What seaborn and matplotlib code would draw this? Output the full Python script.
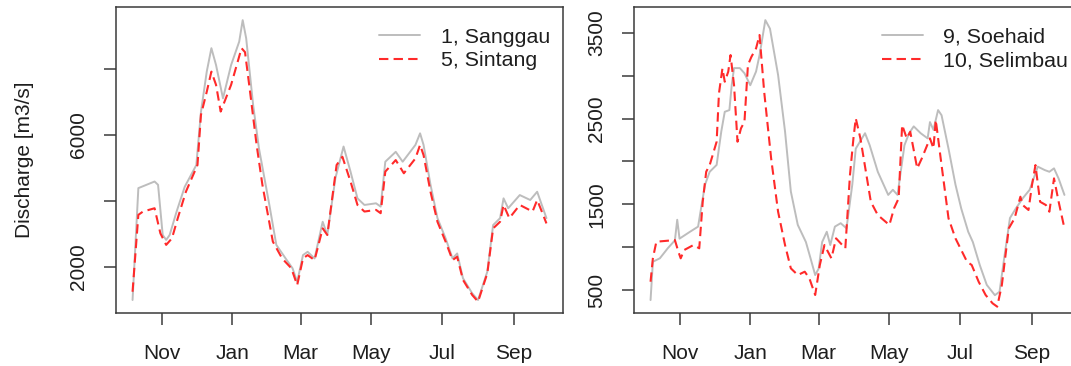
import matplotlib
matplotlib.use("Agg")
import matplotlib.pyplot as plt
import matplotlib.dates as mdates
import seaborn as sns
import pandas as pd

# ---------------- data ----------------
sanggau_dates = ["2009-10-07", "2009-10-12", "2009-10-26", "2009-10-29", "2009-11-02", "2009-11-05",
                 "2009-11-08", "2009-11-14", "2009-11-21", "2009-12-01", "2009-12-05", "2009-12-10",
                 "2009-12-14", "2009-12-18", "2009-12-24", "2009-12-31", "2010-01-07", "2010-01-10",
                 "2010-01-13", "2010-01-19", "2010-01-24", "2010-02-02", "2010-02-08", "2010-02-16",
                 "2010-02-22", "2010-02-26", "2010-03-03", "2010-03-07", "2010-03-13", "2010-03-20",
                 "2010-03-24", "2010-03-31", "2010-04-07", "2010-04-13", "2010-04-19", "2010-04-25",
                 "2010-05-05", "2010-05-09", "2010-05-13", "2010-05-22", "2010-05-28", "2010-06-08",
                 "2010-06-12", "2010-06-15", "2010-06-21", "2010-06-27", "2010-07-04", "2010-07-10",
                 "2010-07-14", "2010-07-19", "2010-07-27", "2010-08-01", "2010-08-09", "2010-08-14",
                 "2010-08-20", "2010-08-23", "2010-08-27", "2010-09-06", "2010-09-15", "2010-09-21",
                 "2010-09-25", "2010-09-29"]
sanggau_q = [1000, 4390, 4590, 4490, 2970, 2820, 2970, 3680, 4430, 5090, 6700, 7920,
             8630, 8120, 7110, 8120, 8830, 9480, 8930, 6910, 5600, 3880, 2670, 2260,
             1960, 1550, 2360, 2460, 2260, 3370, 2970, 4700, 5650, 4890, 4080, 3880,
             3930, 3830, 5190, 5490, 5190, 5700, 6050, 5700, 4490, 3480, 2870, 2260,
             2410, 1660, 1200, 1000, 1860, 3270, 3480, 4080, 3780, 4180, 4030, 4280,
             3880, 3480]

sintang_dates = ["2009-10-07", "2009-10-12", "2009-10-16", "2009-10-26", "2009-10-31", "2009-11-05",
                 "2009-11-10", "2009-11-15", "2009-11-22", "2009-12-02", "2009-12-05", "2009-12-10",
                 "2009-12-14", "2009-12-18", "2009-12-22", "2009-12-31", "2010-01-09", "2010-01-12",
                 "2010-01-16", "2010-01-22", "2010-01-27", "2010-02-05", "2010-02-13", "2010-02-21",
                 "2010-02-26", "2010-03-03", "2010-03-07", "2010-03-13", "2010-03-20", "2010-03-24",
                 "2010-04-01", "2010-04-06", "2010-04-13", "2010-04-19", "2010-04-25", "2010-05-05",
                 "2010-05-09", "2010-05-13", "2010-05-22", "2010-05-29", "2010-06-08", "2010-06-12",
                 "2010-06-15", "2010-06-21", "2010-06-27", "2010-07-04", "2010-07-10", "2010-07-14",
                 "2010-07-19", "2010-07-27", "2010-08-01", "2010-08-09", "2010-08-14", "2010-08-20",
                 "2010-08-23", "2010-08-28", "2010-09-06", "2010-09-17", "2010-09-21", "2010-09-25",
                 "2010-09-29"]
sintang_q = [1250, 3580, 3680, 3780, 3020, 2670, 2870, 3480, 4280, 5090, 6610, 7310,
             7920, 7520, 6710, 7520, 8630, 8510, 7410, 5700, 4490, 2770, 2260, 1960,
             1450, 2260, 2360, 2210, 3170, 2970, 5090, 5340, 4590, 3880, 3680, 3730,
             3630, 4890, 5240, 4840, 5290, 5700, 5390, 4280, 3370, 2770, 2210, 2310,
             1610, 1150, 950, 1810, 3170, 3370, 3880, 3480, 3880, 3680, 4030, 3680,
             3320]

soehaid_dates = ["2009-10-07", "2009-10-09", "2009-10-15", "2009-10-22", "2009-10-28", "2009-10-30",
                 "2009-11-01", "2009-11-10", "2009-11-17", "2009-11-20", "2009-11-23", "2009-11-27",
                 "2009-12-03", "2009-12-07", "2009-12-10", "2009-12-14", "2009-12-16", "2009-12-18",
                 "2009-12-23", "2009-12-27", "2010-01-01", "2010-01-06", "2010-01-09", "2010-01-14",
                 "2010-01-18", "2010-01-25", "2010-01-31", "2010-02-05", "2010-02-11", "2010-02-18",
                 "2010-02-22", "2010-02-26", "2010-03-01", "2010-03-04", "2010-03-08", "2010-03-11",
                 "2010-03-15", "2010-03-20", "2010-03-25", "2010-03-30", "2010-04-02", "2010-04-10",
                 "2010-04-14", "2010-04-21", "2010-04-30", "2010-05-04", "2010-05-08", "2010-05-14",
                 "2010-05-18", "2010-05-22", "2010-05-28", "2010-06-03", "2010-06-05", "2010-06-08",
                 "2010-06-12", "2010-06-15", "2010-06-21", "2010-06-27", "2010-07-02", "2010-07-08",
                 "2010-07-12", "2010-07-18", "2010-07-24", "2010-07-31", "2010-08-04", "2010-08-08",
                 "2010-08-13", "2010-08-18", "2010-08-24", "2010-08-30", "2010-09-06", "2010-09-12",
                 "2010-09-16", "2010-09-20", "2010-09-24", "2010-09-29"]
soehaid_q = [383, 830, 870, 990, 1080, 1320, 1100, 1180, 1240, 1490, 1730, 1880,
             1960, 2350, 2580, 2600, 2890, 3090, 3090, 3030, 2890, 3050, 3240, 3650,
             3550, 3010, 2350, 1650, 1260, 1060, 870, 675, 750, 1060, 1180, 1025,
             1240, 1280, 1220, 1730, 2150, 2330, 2190, 1880, 1610, 1670, 1610, 2190,
             2330, 2410, 2330, 2270, 2460, 2370, 2600, 2540, 2150, 1730, 1450, 1180,
             1060, 790, 560, 440, 480, 870, 1340, 1450, 1570, 1670, 1940, 1900,
             1880, 1920, 1800, 1610]

selimbau_dates = ["2009-10-07", "2009-10-09", "2009-10-12", "2009-10-28", "2009-10-31", "2009-11-02",
                  "2009-11-05", "2009-11-13", "2009-11-18", "2009-11-21", "2009-11-24", "2009-11-27",
                  "2009-12-03", "2009-12-05", "2009-12-08", "2009-12-10", "2009-12-13", "2009-12-15",
                  "2009-12-18", "2009-12-21", "2009-12-24", "2009-12-27", "2009-12-30", "2010-01-02",
                  "2010-01-06", "2010-01-09", "2010-01-13", "2010-01-19", "2010-01-25", "2010-01-31",
                  "2010-02-05", "2010-02-11", "2010-02-17", "2010-02-21", "2010-02-26", "2010-03-02",
                  "2010-03-06", "2010-03-09", "2010-03-12", "2010-03-16", "2010-03-24", "2010-03-28",
                  "2010-03-31", "2010-04-02", "2010-04-06", "2010-04-15", "2010-04-21", "2010-05-01",
                  "2010-05-05", "2010-05-09", "2010-05-12", "2010-05-16", "2010-05-19", "2010-05-25",
                  "2010-05-29", "2010-06-05", "2010-06-08", "2010-06-10", "2010-06-15", "2010-06-21",
                  "2010-06-27", "2010-07-07", "2010-07-11", "2010-07-17", "2010-07-23", "2010-07-29",
                  "2010-08-02", "2010-08-06", "2010-08-12", "2010-08-17", "2010-08-22", "2010-08-24",
                  "2010-08-29", "2010-09-01", "2010-09-04", "2010-09-08", "2010-09-13", "2010-09-16",
                  "2010-09-20", "2010-09-24", "2010-09-29"]
selimbau_q = [597, 870, 1064, 1083, 947, 870, 967, 1025, 987, 1530, 1881, 1958,
              2231, 2795, 3087, 2931, 3048, 3242, 2892, 2231, 2387, 2464, 3126, 3222,
              3320, 3476, 2814, 2037, 1414, 1025, 753, 675, 714, 636, 442, 792,
              1025, 947, 870, 1103, 987, 1842, 2270, 2504, 2270, 1530, 1375, 1259,
              1453, 1570, 2426, 2270, 2347, 1920, 2037, 2270, 2153, 2484, 1958, 1337,
              1103, 830, 792, 597, 442, 345, 306, 558, 1220, 1337, 1589, 1492,
              1434, 1725, 1958, 1530, 1492, 1414, 1803, 1530, 1220]

left_labels = ["1, Sanggau", "5, Sintang"]
right_labels = ["9, Soehaid", "10, Selimbau"]
ylabel_text = "Discharge [m3/s]"
left_yticks = [2000, 4000, 6000, 8000]
left_yticklabels = ["2000", "", "6000", ""]
right_yticks = [500, 1000, 1500, 2000, 2500, 3000, 3500]
right_yticklabels = ["500", "", "1500", "", "2500", "", "3500"]
tick_months = [11, 1, 3, 5, 7, 9]

# ---------------- style ----------------
sns.set_style("white")
plt.rcParams["font.family"] = ["Liberation Sans", "DejaVu Sans"]
FS = 15
TXT = "#1e1e1e"
GRAY = "#bdbdbd"
RED = "#ff2a2a"

fig = plt.figure(figsize=(10.71, 3.66), dpi=100)
W, H = 1071, 366
axL = fig.add_axes([116 / W, (H - 313) / H, 447 / W, 306 / H])
axR = fig.add_axes([634 / W, (H - 313) / H, 447 / W, 306 / H])


def draw(ax, d1, q1, d2, q2, labels, yticks, yticklabels, ylim):
    sns.lineplot(x=pd.to_datetime(d1), y=q1, ax=ax, color=GRAY, lw=1.4, label=labels[0])
    sns.lineplot(x=pd.to_datetime(d2), y=q2, ax=ax, color=RED, lw=1.5,
                 linestyle=(0, (4.5, 2.5)), label=labels[1])
    ax.margins(x=0.04)
    ax.set_ylim(*ylim)
    ax.set_yticks(yticks)
    ax.set_yticklabels(yticklabels)
    ax.xaxis.set_major_locator(mdates.MonthLocator(bymonth=tick_months))
    ax.xaxis.set_major_formatter(mdates.DateFormatter("%b"))
    ax.set_xlabel("")
    ax.set_ylabel("")
    for s in ax.spines.values():
        s.set_color("#3a3a3a")
        s.set_linewidth(1.1)
    ax.tick_params(axis="both", direction="out", length=8.5, width=1.1, color="#3a3a3a",
                   labelsize=FS, labelcolor=TXT, left=True, bottom=True)
    ax.tick_params(axis="x", pad=13.5)
    ax.tick_params(axis="y", pad=11.5)
    for t in ax.get_yticklabels():
        t.set_rotation(90)
        t.set_va("center")
        t.set_ha("right")
    ax.grid(False)
    leg = ax.legend(loc="upper right", bbox_to_anchor=(0.995, 0.967), frameon=False,
                    fontsize=15.4, handlelength=1.92, handletextpad=0.96,
                    labelspacing=0.22, borderaxespad=0.0, borderpad=0.5)
    for t in leg.get_texts():
        t.set_color(TXT)


draw(axL, sanggau_dates, sanggau_q, sintang_dates, sintang_q, left_labels,
     left_yticks, left_yticklabels, (606, 9878))
draw(axR, soehaid_dates, soehaid_q, selimbau_dates, selimbau_q, right_labels,
     right_yticks, right_yticklabels, (232, 3803))

axL.set_ylabel(ylabel_text, fontsize=FS, color=TXT)
axL.yaxis.set_label_coords((34 - 116) / 447, 0.5)

fig.savefig("out.png", dpi=100)
